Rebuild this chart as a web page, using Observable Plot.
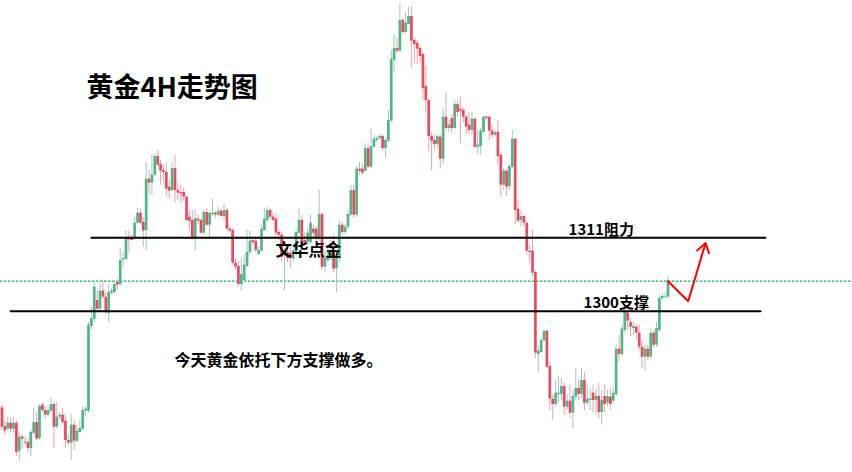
<!DOCTYPE html>
<html>
<head>
<meta charset="utf-8">
<script src="https://cdn.jsdelivr.net/npm/d3@7"></script>
<script src="https://cdn.jsdelivr.net/npm/@observablehq/plot@0.6"></script>
<style>
  html, body { margin: 0; padding: 0; background: #fff; }
  #chart svg { display: block; }
</style>
</head>
<body>
<div id="chart"></div>
<script>
// Gold, 4-hour bars (USD/oz)
const open = [
  1285.5,1282.7,1282.3,1283.2,1282.3,1283.2,1279.0,1281.1,1280.2,1280.3,
  1279.4,1281.7,1283.3,1280.9,1285.9,1285.1,1284.4,1285.0,1286.0,1282.6,
  1284.1,1284.4,1283.5,1280.6,1280.2,1282.9,1280.5,1281.8,1282.3,1285.0,
  1285.0,1297.7,1298.8,1301.6,1300.3,1303.0,1302.1,1299.7,1302.7,1302.8,
  1304.3,1304.0,1307.7,1307.8,1311.1,1311.0,1310.8,1313.2,1314.7,1313.3,
  1312.1,1319.8,1319.2,1320.4,1323.2,1322.0,1321.1,1320.8,1318.6,1318.1,
  1321.4,1318.1,1317.8,1317.8,1317.1,1314.1,1313.6,1310.8,1313.8,1313.6,
  1311.7,1314.8,1312.9,1314.5,1314.7,1314.4,1315.0,1314.2,1315.1,1312.3,
  1312.1,1307.2,1306.7,1304.0,1304.6,1306.7,1308.8,1310.6,1310.5,1308.5,
  1309.0,1312.1,1313.6,1315.1,1314.1,1313.8,1311.8,1311.4,1308.4,1308.8,
  1308.7,1307.8,1308.8,1311.7,1313.6,1310.6,1310.3,1310.3,1312.3,1312.3,
  1310.9,1314.5,1306.6,1307.6,1307.9,1309.1,1306.4,1307.9,1312.9,1311.8,
  1312.6,1314.4,1318.1,1314.4,1321.3,1321.3,1321.0,1324.4,1321.6,1324.6,
  1325.6,1325.9,1326.2,1324.4,1325.5,1328.5,1337.6,1339.4,1339.0,1343.6,
  1341.8,1343.0,1344.2,1340.6,1340.2,1339.4,1338.5,1333.7,1331.6,1326.2,
  1325.6,1325.0,1326.1,1322.8,1329.1,1327.4,1328.9,1327.4,1331.0,1330.3,
  1330.1,1329.1,1327.9,1327.1,1328.8,1324.6,1324.7,1326.8,1329.1,1329.1,
  1327.0,1326.4,1326.8,1323.4,1318.9,1321.0,1318.7,1321.6,1325.8,1315.3,
  1313.6,1314.2,1313.2,1309.0,1309.0,1305.8,1293.5,1293.8,1295.6,1297.0,
  1291.7,1286.8,1286.0,1287.5,1287.5,1288.7,1285.6,1286.5,1284.7,1287.1,
  1288.4,1287.5,1289.6,1286.2,1286.6,1287.7,1286.6,1287.2,1284.8,1287.2,
  1286.2,1287.1,1286.5,1287.5,1294.3,1293.5,1297.1,1299.7,1298.3,1297.4,
  1297.6,1296.7,1294.6,1293.1,1294.3,1293.1,1296.7,1294.9,1297.1,1301.9,
  1302.1,1302.1
];
const high = [
  1285.9,1283.6,1284.1,1284.1,1284.1,1283.6,1281.7,1281.4,1281.1,1280.9,
  1282.1,1285.4,1284.8,1286.0,1286.2,1285.7,1285.7,1286.9,1286.3,1286.3,
  1284.8,1285.4,1284.4,1281.4,1284.4,1283.5,1282.9,1283.6,1285.7,1285.7,
  1298.3,1300.6,1304.2,1303.0,1304.2,1304.6,1302.7,1304.0,1303.4,1304.6,
  1304.8,1309.4,1308.8,1312.1,1312.0,1311.4,1314.1,1315.4,1315.4,1314.1,
  1322.3,1321.1,1323.4,1323.5,1324.1,1322.6,1321.9,1322.2,1319.6,1322.2,
  1323.4,1319.2,1318.9,1318.4,1317.4,1315.1,1315.1,1315.1,1314.4,1313.9,
  1315.1,1315.4,1314.8,1316.8,1315.0,1315.6,1315.3,1316.0,1315.4,1312.7,
  1312.4,1307.9,1307.5,1307.9,1308.4,1312.1,1312.1,1311.2,1310.9,1309.7,
  1312.9,1315.4,1315.6,1315.4,1314.7,1314.5,1312.1,1311.8,1309.4,1310.0,
  1309.6,1309.7,1312.1,1315.4,1314.4,1311.8,1312.4,1314.4,1312.9,1312.7,
  1318.1,1314.8,1309.1,1309.4,1310.6,1311.4,1308.4,1313.6,1313.3,1313.0,
  1315.1,1318.9,1318.9,1321.7,1322.3,1321.9,1325.2,1324.9,1327.4,1326.4,
  1326.2,1326.5,1326.4,1325.9,1330.1,1339.1,1341.4,1340.9,1346.2,1343.9,
  1344.8,1345.6,1345.7,1340.9,1340.6,1339.9,1338.8,1336.7,1331.8,1326.7,
  1326.4,1326.4,1326.4,1330.4,1332.8,1328.6,1329.4,1331.6,1331.5,1332.1,
  1330.4,1329.4,1329.8,1329.8,1328.9,1327.1,1327.4,1329.2,1329.2,1329.2,
  1327.9,1327.1,1328.5,1323.5,1321.4,1321.3,1321.9,1327.1,1325.9,1316.6,
  1315.1,1314.4,1313.3,1309.9,1312.1,1306.1,1294.9,1295.9,1297.1,1297.1,
  1292.3,1287.4,1289.6,1290.2,1289.9,1289.2,1287.4,1288.9,1288.1,1291.4,
  1289.9,1291.4,1290.8,1288.9,1288.4,1288.9,1288.4,1289.2,1288.1,1288.9,
  1288.1,1288.4,1288.6,1294.9,1296.4,1297.9,1300.3,1300.1,1298.9,1298.3,
  1297.9,1297.9,1295.6,1294.9,1294.9,1297.4,1297.1,1298.3,1302.4,1302.7,
  1302.8,1305.2
];
const low = [
  1282.1,1281.4,1282.1,1281.7,1281.7,1278.2,1277.6,1279.4,1279.7,1278.7,
  1278.2,1281.5,1280.6,1280.6,1284.8,1283.8,1284.1,1284.8,1279.4,1282.4,
  1283.6,1283.0,1279.4,1279.9,1277.6,1279.1,1280.3,1281.7,1282.1,1284.2,
  1284.7,1297.1,1298.3,1299.8,1300.0,1301.8,1299.4,1298.2,1302.5,1302.5,
  1303.1,1303.7,1306.6,1307.6,1308.7,1310.5,1310.6,1313.0,1313.0,1309.6,
  1309.1,1317.4,1317.4,1320.2,1321.7,1318.9,1319.2,1317.2,1316.9,1318.0,
  1316.2,1316.6,1316.2,1316.5,1313.5,1312.0,1310.6,1309.0,1313.0,1311.5,
  1311.5,1312.7,1310.9,1314.2,1313.9,1314.1,1314.1,1313.6,1312.1,1311.7,
  1306.9,1306.1,1303.6,1303.0,1304.5,1306.6,1308.5,1310.0,1308.8,1308.4,
  1308.8,1312.0,1313.3,1313.9,1313.5,1310.9,1310.6,1307.3,1303.1,1307.3,
  1306.4,1307.3,1308.4,1311.5,1309.1,1309.7,1309.9,1310.0,1310.9,1310.3,
  1310.6,1306.1,1305.8,1307.3,1307.6,1305.8,1302.8,1307.3,1311.4,1311.5,
  1312.1,1314.2,1313.9,1314.1,1320.4,1320.4,1320.8,1321.4,1321.4,1324.4,
  1325.3,1325.6,1324.0,1322.9,1325.3,1328.3,1335.7,1338.7,1338.8,1341.5,
  1341.7,1342.9,1336.4,1337.2,1337.0,1337.2,1331.6,1329.8,1324.0,1321.1,
  1324.1,1324.4,1321.4,1322.0,1327.1,1326.8,1326.7,1327.3,1329.1,1325.2,
  1328.3,1326.5,1326.4,1326.4,1324.4,1323.4,1323.4,1326.7,1328.6,1325.6,
  1325.9,1326.1,1321.9,1317.1,1318.1,1317.2,1318.1,1321.4,1313.0,1313.2,
  1312.7,1312.6,1308.4,1307.2,1305.2,1292.9,1290.7,1293.7,1295.3,1291.4,
  1285.1,1283.6,1285.7,1286.3,1286.6,1284.4,1285.1,1283.9,1282.4,1286.6,
  1286.6,1286.9,1285.1,1285.9,1285.1,1284.7,1284.4,1283.9,1282.9,1284.8,
  1285.7,1285.1,1286.0,1287.2,1292.3,1293.2,1296.8,1297.1,1296.2,1296.4,
  1295.6,1294.1,1291.4,1291.1,1292.6,1292.9,1294.4,1294.6,1296.8,1301.6,
  1301.8,1301.9
];
const close = [
  1282.6,1282.0,1283.2,1282.3,1283.2,1278.8,1281.1,1280.8,1280.4,1279.4,
  1281.8,1283.3,1280.8,1285.7,1285.1,1284.4,1285.1,1286.0,1282.6,1284.1,
  1284.4,1283.3,1280.6,1280.2,1282.9,1280.5,1282.0,1282.4,1285.1,1285.3,
  1297.9,1298.9,1303.6,1300.3,1303.0,1302.1,1299.8,1302.8,1303.0,1304.0,
  1303.9,1307.6,1307.9,1310.9,1310.7,1310.6,1313.2,1314.7,1313.2,1312.0,
  1319.8,1319.2,1320.4,1323.2,1321.9,1321.0,1320.8,1318.3,1318.0,1321.4,
  1318.1,1317.7,1317.6,1317.1,1313.6,1313.5,1310.8,1313.9,1313.5,1311.7,
  1314.8,1312.9,1314.7,1314.7,1314.4,1315.0,1314.2,1315.1,1312.3,1312.0,
  1307.2,1306.6,1304.0,1305.5,1306.9,1308.8,1310.5,1310.3,1309.1,1309.1,
  1312.3,1313.8,1315.1,1314.1,1313.6,1311.7,1311.4,1308.1,1308.8,1307.9,
  1307.9,1309.1,1311.8,1313.6,1310.2,1310.2,1311.7,1313.2,1311.7,1310.9,
  1314.5,1306.6,1307.9,1308.4,1309.1,1306.3,1307.9,1312.9,1311.8,1312.6,
  1314.5,1318.1,1314.4,1321.3,1321.0,1320.7,1324.4,1321.6,1324.7,1325.8,
  1325.9,1326.2,1324.4,1325.6,1328.6,1337.8,1339.4,1339.0,1343.6,1341.8,
  1343.2,1344.2,1340.5,1340.0,1339.3,1338.2,1333.4,1331.6,1326.2,1325.5,
  1325.0,1326.2,1322.8,1329.1,1327.4,1327.9,1327.4,1331.0,1329.8,1330.0,
  1329.1,1327.6,1327.1,1328.8,1324.6,1324.9,1327.0,1329.1,1328.9,1327.0,
  1326.4,1326.8,1323.2,1318.9,1321.0,1318.6,1321.7,1325.8,1315.1,1313.5,
  1314.2,1313.2,1309.0,1308.8,1305.7,1293.7,1294.0,1295.6,1297.0,1291.6,
  1286.8,1286.0,1287.7,1287.7,1288.7,1285.6,1286.5,1284.7,1287.2,1288.4,
  1287.5,1289.6,1286.2,1286.8,1286.8,1286.6,1287.2,1284.8,1286.6,1286.0,
  1287.2,1286.0,1287.7,1294.3,1293.5,1297.3,1299.8,1298.5,1297.6,1297.7,
  1296.7,1294.6,1293.1,1294.3,1293.1,1296.7,1294.9,1297.4,1301.9,1302.2,
  1302.2,1304.5
];

// Key levels and their captions
const levels = [1311, 1300];
const levelLabels = ["1311阻力", "1300支撑"];
const title = "黄金4H走势图";
const watermark = "文华点金";
const note = "今天黄金依托下方支撑做多。";

const bars = open.map((o, i) => ({
  i, open: o, high: high[i], low: low[i], close: close[i], up: close[i] >= o
}));
const upBars = bars.filter(d => d.up);
const downBars = bars.filter(d => !d.up);
const last = bars[bars.length - 1];

const UP = "#4db786", DOWN = "#ea4a5f";
const UP_WICK = "#9fc8c6", DOWN_WICK = "#f3a0ab";
const font = "'Noto Sans CJK SC', 'Noto Sans', sans-serif";

// Hand-drawn level lines, spanning bar-index ranges
const levelLines = [
  {p: levels[0], from: 31, to: 264.8},
  {p: levels[1], from: 3, to: 263.1}
];
const levelSegments = levelLines.flatMap((l, k) => [
  {k, i: l.from, p: l.p}, {k, i: l.to, p: l.p}
]);
const labelAt = [196.5, 201.7];
const labelRows = levels.map((p, k) => ({p, text: levelLabels[k], i: labelAt[k]}));

// Expected move: a dip toward support, then a rally to resistance
const arrowPath = [
  {i: last.i, p: last.close}, {i: 238, p: 1301.5}, {i: 244, p: 1310.2}
];
const arrowHead = [
  {i: 241.1, p: 1309.1}, {i: 244, p: 1310.2}, {i: 245.2, p: 1308.7}
];

const chart = Plot.plot({
  width: 852,
  height: 472,
  margin: 0,
  x: {domain: [-0.52, 294.98], axis: null},
  y: {domain: [1275.8, 1346.6], axis: null},
  style: {background: "#fff", overflow: "visible"},
  marks: [
    // last price line
    Plot.ruleY([last.close], {
      stroke: "#12b35a", strokeWidth: 1.3, strokeDasharray: "2.5,1.5"
    }),
    // wicks
    Plot.ruleX(upBars, {x: "i", y1: "low", y2: "high", stroke: UP_WICK, strokeWidth: 1}),
    Plot.ruleX(downBars, {x: "i", y1: "low", y2: "high", stroke: DOWN_WICK, strokeWidth: 1}),
    // bodies
    Plot.ruleX(upBars, {x: "i", y1: "open", y2: "close", stroke: UP, strokeWidth: 2.7}),
    Plot.ruleX(downBars, {x: "i", y1: "open", y2: "close", stroke: DOWN, strokeWidth: 2.7}),
    // support / resistance
    Plot.line(levelSegments, {x: "i", y: "p", z: "k", stroke: "#000", strokeWidth: 2}),
    Plot.text(labelRows, {
      x: "i", y: "p", text: "text", dy: -8, textAnchor: "start", lineAnchor: "middle",
      fontSize: 15, fontWeight: "bold", fontFamily: font, fill: "#000"
    }),
    // projected path
    Plot.line(arrowPath, {x: "i", y: "p", stroke: "#ff0000", strokeWidth: 2, strokeLinejoin: "miter"}),
    Plot.line(arrowHead, {x: "i", y: "p", stroke: "#ff0000", strokeWidth: 2, strokeLinejoin: "miter"}),
    // captions
    Plot.text([title], {
      frameAnchor: "top-left", dx: 86, dy: 88, text: d => d, textAnchor: "start", lineAnchor: "middle",
      fontSize: 27, fontWeight: "bold", fontFamily: font, fill: "#000"
    }),
    Plot.text([watermark], {
      frameAnchor: "top-left", dx: 275, dy: 250, text: d => d, textAnchor: "start", lineAnchor: "middle",
      fontSize: 16.5, fontWeight: "bold", fontFamily: font, fill: "#000"
    }),
    Plot.text([note], {
      frameAnchor: "top-left", dx: 174, dy: 360.5, text: d => d, textAnchor: "start", lineAnchor: "middle",
      fontSize: 16, fontWeight: "bold", fontFamily: font, fill: "#000"
    })
  ]
});

document.getElementById("chart").append(chart);
</script>
</body>
</html>
